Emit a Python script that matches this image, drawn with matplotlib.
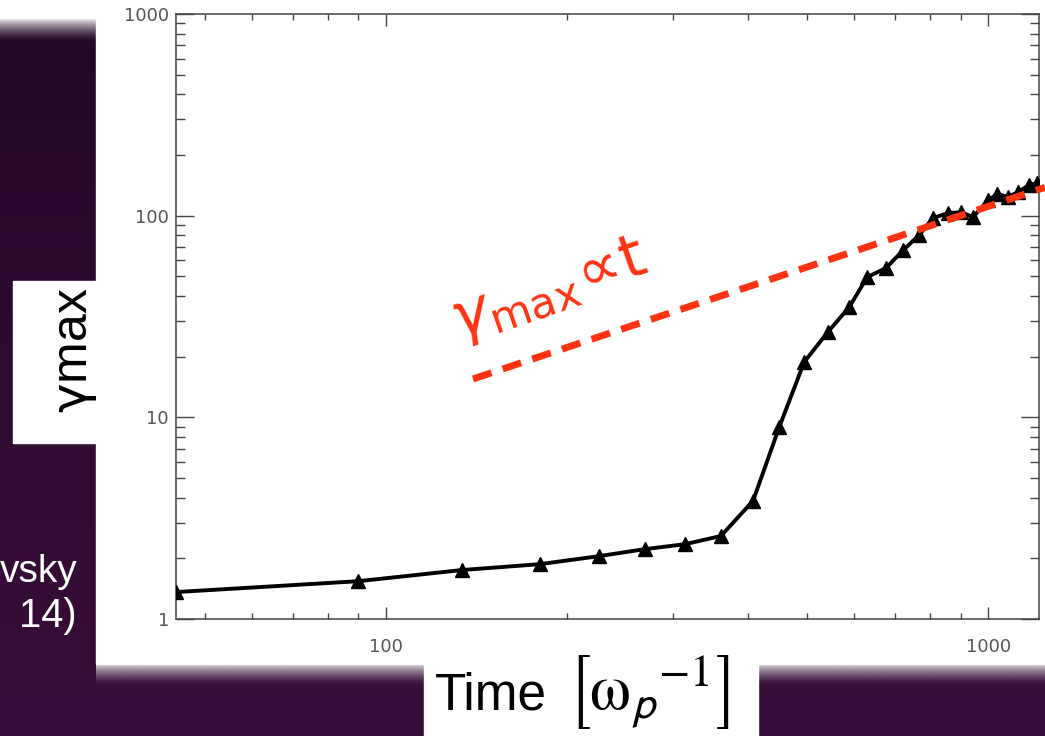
import numpy as np
import matplotlib
matplotlib.use("Agg")
import matplotlib.pyplot as plt
from matplotlib.patches import Rectangle
from matplotlib.colors import LinearSegmentedColormap, to_rgb
from matplotlib.ticker import FixedLocator, NullFormatter, LogLocator

# simulation points: maximum Lorentz factor vs time
time = [44.8, 90, 134, 180, 226, 269, 314, 360, 407, 450, 495, 542, 588, 630,
        677, 723, 768, 810, 858, 902, 944, 1000, 1035, 1080, 1122, 1170, 1206]
gamma_max = [1.36, 1.54, 1.75, 1.87, 2.05, 2.22, 2.35, 2.58, 3.85, 8.95, 18.8, 26.5,
             35.2, 49.6, 55.0, 67.5, 80.1, 97.3, 103, 104, 98.4, 119, 128, 124,
             131, 142, 145]

# reference line gamma_max ~ t
t_ref = [139.5, 1243]
gamma_ref0 = 15.5
gamma_ref = [gamma_ref0 * t / t_ref[0] for t in t_ref]

xticks = [100, 1000]
xticklabels = ["100", "1000"]
yticks = [1, 10, 100, 1000]
yticklabels = ["1", "10", "100", "1000"]

W, H = 1045, 736
fig = plt.figure(figsize=(W / 100, H / 100), dpi=100)

# slide background (pixel coordinates)
bg = fig.add_axes([0, 0, 1, 1])
cmap = LinearSegmentedColormap.from_list("slide", ["#220727", "#3a0e3a"])
bg.imshow(np.linspace(0, 1, 256)[:, None], cmap=cmap, aspect="auto",
          extent=(0, W, H, 0), zorder=0)


def fade(x0, x1, y0, y1, color):
    rgba = np.zeros((64, 1, 4))
    rgba[..., :3] = to_rgb(color)
    rgba[:, 0, 3] = np.linspace(1, 0, 64) ** 1.5
    bg.imshow(rgba, extent=(x0, x1, y1, y0), aspect="auto", zorder=1,
              interpolation="bilinear")


bg.add_patch(Rectangle((0, 0), 96, 19, color="white", zorder=1))
fade(0, 96, 19, 42, "#e6e2e6")
fade(96, W, 664, 686, "#dcd6dc")
bg.add_patch(Rectangle((96, 0), W - 96, 664, color="white", zorder=2))
bg.add_patch(Rectangle((13, 281), 83, 162, color="white", zorder=2))
bg.add_patch(Rectangle((424, 664), 334, 72, color="white", zorder=2))
bg.set_xlim(0, W)
bg.set_ylim(H, 0)
bg.axis("off")

bg.text(78, 582, "vsky", color="white", fontsize=28, family="Liberation Sans",
        ha="right", va="baseline", zorder=3)
bg.text(77, 627, "14)", color="white", fontsize=28.8, family="Liberation Sans",
        ha="right", va="baseline", zorder=3)
bg.text(76, 350, r"$\mathrm{\gamma}$max", color="black", fontsize=36,
        family="Liberation Sans", math_fontfamily="dejavusans",
        rotation=90, ha="center", va="center", zorder=3)
bg.text(435, 709, "Time", color="black", fontsize=37, family="Liberation Sans",
        ha="left", va="baseline", zorder=3)
bg.text(567, 710, r"$\left[\mathrm{\omega}_{\mathsf{p}}{}^{-1}\right]$",
        color="black", fontsize=47, math_fontfamily="stix",
        ha="left", va="baseline", zorder=3)

# the plot itself
ax = fig.add_axes([176 / W, 1 - 619 / H, (1039 - 176) / W, (619 - 14) / H])
ax.set_facecolor("white")
ax.set_xscale("log")
ax.set_yscale("log")
ax.set_xlim(44.8, 1215)
ax.set_ylim(1, 1000)

ax.plot(time, gamma_max, color="black", lw=2.8, marker="^", ms=10,
        markeredgecolor="black", zorder=3)
ax.plot(t_ref, gamma_ref, color="#ff3311", lw=5, dashes=(2.8, 1.7),
        dash_capstyle="butt", clip_on=False, zorder=4)
ax.text(549, 291, r"$\gamma_{\mathsf{max}}\!\propto\!\mathsf{t}$", color="#ff3311",
        fontsize=44, math_fontfamily="dejavusans", rotation=19,
        rotation_mode="anchor", ha="center", va="center",
        transform=bg.transData, zorder=5)

ax.xaxis.set_major_locator(FixedLocator(xticks))
ax.set_xticklabels(xticklabels)
ax.yaxis.set_major_locator(FixedLocator(yticks))
ax.set_yticklabels(yticklabels)
ax.xaxis.set_minor_locator(LogLocator(base=10, subs=np.arange(2, 10)))
ax.yaxis.set_minor_locator(LogLocator(base=10, subs=np.arange(2, 10)))
ax.xaxis.set_minor_formatter(NullFormatter())
ax.yaxis.set_minor_formatter(NullFormatter())

for s in ax.spines.values():
    s.set_color("#444444")
    s.set_linewidth(1.1)
ax.tick_params(which="both", direction="in", top=True, right=True,
               color="#444444", labelcolor="#555555", labelsize=13, width=1.0)
for lab in ax.get_xticklabels() + ax.get_yticklabels():
    lab.set_fontfamily("DejaVu Sans")
ax.tick_params(axis="x", which="major", length=8.6, pad=14)
ax.tick_params(axis="x", which="minor", length=4.3)
ax.tick_params(axis="y", which="major", length=13, pad=5)
ax.tick_params(axis="y", which="minor", length=6.5)

fig.savefig("out.png", dpi=100)
